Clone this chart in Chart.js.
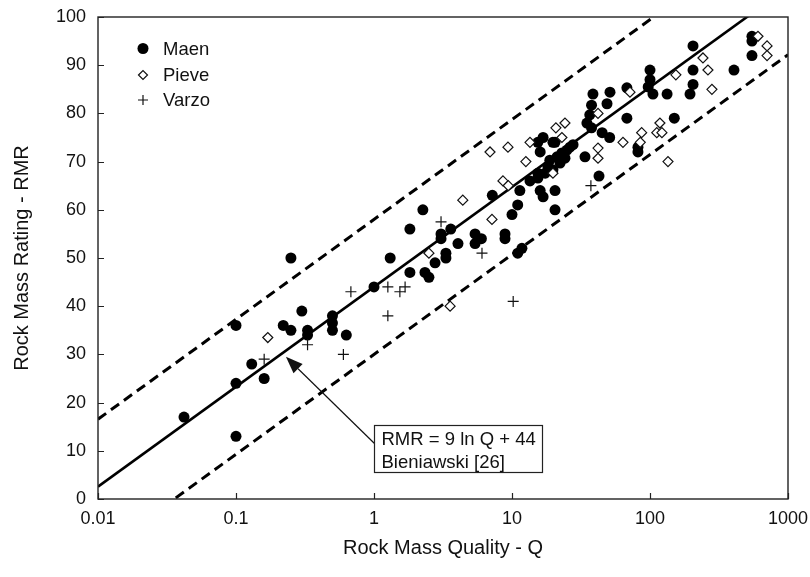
<!DOCTYPE html>
<html>
<head>
<meta charset="utf-8">
<script src="https://cdn.jsdelivr.net/npm/chart.js@4.4.1/dist/chart.umd.min.js"></script>
<style>
  html, body { margin: 0; padding: 0; background: #fff; }
  canvas { display: block; }
</style>
</head>
<body>
<canvas id="c" width="810" height="577"></canvas>
<script>
// Rock mass quality Q vs rock mass rating RMR for three sites
const maenQ = [0.042, 0.1, 0.1, 0.1, 0.13, 0.16, 0.22, 0.25, 0.25, 0.3, 0.33, 0.33, 0.5, 0.5, 0.5, 0.63,
  1.0, 1.31, 1.82, 1.82, 2.26, 2.34, 2.5, 2.77, 3.06, 3.06, 3.32, 3.32, 3.6, 4.06, 5.4, 5.4, 6.0, 8.9, 8.9,
  7.2, 10, 11, 11.8, 11, 11.4, 13.5, 15.4, 16.8, 19.8, 20.5, 16, 25, 26.3, 27.7, 23, 21.2, 24.2, 22.3, 18.8,
  18.2, 19.8, 17.4, 15.4, 15.4, 16, 16.8, 20.5, 20.5, 33.8, 42.7, 34.9, 36.6, 37.7, 37.7, 38.6, 48.8, 51.3,
  45, 51, 68, 68, 81.8, 81.8, 100, 100, 97, 105, 133, 150, 205, 205, 205, 195, 406, 548, 548, 548];
const maenRMR = [17, 13, 24, 36, 28, 25, 36, 35, 50, 39, 35, 34, 38, 36.5, 35, 34,
  44, 50, 56, 47, 60, 47, 46, 49, 55, 54, 51, 50, 56, 53, 55, 53, 54, 55, 54,
  63, 59, 51, 52, 61, 64, 66, 74, 75, 74, 74, 72, 72.4, 73, 73.5, 71.8, 71, 70.7, 69.7, 70.3,
  69, 68.3, 67.6, 67.6, 66.6, 64, 62.7, 64, 60, 71, 67, 78, 79.7, 77, 81.7, 84, 82, 84.4,
  76, 75, 85.3, 79, 73, 72, 89, 87, 85.5, 84, 84, 79, 94, 89, 86, 84, 89, 96, 95, 92];

const pieveQ = [0.17, 3.56, 2.5, 4.4, 7.16, 6.93, 9.35, 8.6, 9.4, 12.6, 13.5, 19.8, 24.2, 20.8, 23,
  42, 42, 42, 63.7, 87, 85, 118, 112, 122, 135, 154, 242, 263, 281, 606, 705, 705, 71.6];
const pieveRMR = [33.5, 40, 51, 62, 58, 72, 73, 66, 65, 70, 74, 67.6, 78, 77, 75,
  80, 72.8, 70.7, 74, 76, 74, 78, 76, 76, 70, 88, 91.5, 89, 85, 96, 94, 92, 84.4];

const varzoQ = [0.16, 0.33, 0.6, 0.68, 1.26, 1.26, 1.54, 1.68, 3.06, 6.06, 10.2, 37.3];
const varzoRMR = [29, 32, 30, 43, 44, 38, 43, 44, 57.5, 51, 41, 65];

// Bieniawski correlation RMR = 9 ln Q + 44, with a +/- band
const FIT_SLOPE = 9;
const FIT_INTERCEPT = 44;
const BAND = 14;
const lineQ = [0.01, 1000];

const xTickValues = [0.01, 0.1, 1, 10, 100, 1000];
const xTickLabels = ['0.01', '0.1', '1', '10', '100', '1000'];

const seriesNames = ['Maen', 'Pieve', 'Varzo'];

const FONT_FAMILY = 'Arial, "Liberation Sans", Helvetica, sans-serif';
const INK = '#111';

const pts = (qs, rs) => qs.map((q, i) => ({ x: q, y: rs[i] }));
const fitLine = (off) => lineQ.map(q => ({ x: q, y: FIT_SLOPE * Math.log(q) + FIT_INTERCEPT + off }));

// Inward tick marks, plot frame, legend and the correlation callout
const decorations = {
  id: 'decorations',
  afterDatasetsDraw(chart) {
    const { ctx, chartArea: a, scales: { x, y } } = chart;
    ctx.save();
    // frame
    ctx.strokeStyle = '#222';
    ctx.lineWidth = 1.4;
    ctx.strokeRect(a.left, a.top, a.right - a.left, a.bottom - a.top);
    // ticks
    ctx.lineWidth = 1.2;
    ctx.beginPath();
    y.ticks.forEach(t => {
      const py = Math.round(y.getPixelForValue(t.value)) + 0.5;
      ctx.moveTo(a.left, py); ctx.lineTo(a.left + 6, py);
    });
    xTickValues.forEach(v => {
      const px = Math.round(x.getPixelForValue(v)) + 0.5;
      ctx.moveTo(px, a.bottom); ctx.lineTo(px, a.bottom - 6);
    });
    ctx.stroke();

    // legend
    ctx.font = '18.5px ' + FONT_FAMILY;
    ctx.textBaseline = 'middle';
    ctx.textAlign = 'left';
    const rows = [48.5, 75, 100];
    chart.data.datasets.slice(0, 3).forEach((ds, i) => {
      ctx.fillStyle = ds.backgroundColor;
      ctx.strokeStyle = ds.borderColor;
      ctx.lineWidth = ds.borderWidth;
      Chart.helpers.drawPoint(ctx, {
        pointStyle: ds.pointStyle, radius: ds.legendRadius, borderWidth: ds.borderWidth, rotation: 0
      }, 143, rows[i]);
      ctx.fillStyle = INK;
      ctx.fillText(ds.label, 163, rows[i] + 1);
    });

    // callout box
    const bx = Math.round(x.getPixelForValue(1)) + 0.5;
    const by = Math.round(y.getPixelForValue(15.4)) + 0.5;
    const bw = 168, bh = 47;
    // arrow
    const tipX = x.getPixelForValue(0.23), tipY = y.getPixelForValue(29.5);
    const sx = bx, sy = by + 18;
    const ang = Math.atan2(sy - tipY, sx - tipX);
    const hl = 17, hw = 6.5;
    const baseX = tipX + Math.cos(ang) * hl, baseY = tipY + Math.sin(ang) * hl;
    ctx.strokeStyle = '#111';
    ctx.lineWidth = 1.2;
    ctx.beginPath();
    ctx.moveTo(sx, sy); ctx.lineTo(baseX, baseY);
    ctx.stroke();
    ctx.fillStyle = '#111';
    ctx.beginPath();
    ctx.moveTo(tipX, tipY);
    ctx.lineTo(baseX + Math.sin(ang) * hw, baseY - Math.cos(ang) * hw);
    ctx.lineTo(baseX - Math.sin(ang) * hw, baseY + Math.cos(ang) * hw);
    ctx.closePath();
    ctx.fill();

    ctx.fillStyle = '#fff';
    ctx.fillRect(bx, by, bw, bh);
    ctx.strokeStyle = '#222';
    ctx.lineWidth = 1.2;
    ctx.strokeRect(bx, by, bw, bh);
    ctx.fillStyle = INK;
    ctx.font = '18.5px ' + FONT_FAMILY;
    ctx.fillText('RMR = ' + FIT_SLOPE + ' ln Q + ' + FIT_INTERCEPT, bx + 7, by + 14.5);
    ctx.fillText('Bieniawski [26]', bx + 7, by + 37.5);
    ctx.restore();
  }
};

new Chart(document.getElementById('c'), {
  type: 'scatter',
  data: {
    datasets: [
      { label: seriesNames[0], data: pts(maenQ, maenRMR), pointStyle: 'circle', pointRadius: 5.5,
        legendRadius: 5.5, backgroundColor: '#000', borderColor: '#000', borderWidth: 0, order: 3 },
      { label: seriesNames[1], data: pts(pieveQ, pieveRMR), pointStyle: 'rectRot', pointRadius: 5,
        legendRadius: 4.5, backgroundColor: '#fff', borderColor: '#111', borderWidth: 1.2, order: 2 },
      { label: seriesNames[2], data: pts(varzoQ, varzoRMR), pointStyle: 'cross', pointRadius: 5.5,
        legendRadius: 5, backgroundColor: '#111', borderColor: '#111', borderWidth: 1.2, order: 1 },
      { label: 'fit', data: fitLine(0), showLine: true, pointRadius: 0, borderColor: '#000',
        borderWidth: 2.6, order: 10 },
      { label: 'upper', data: fitLine(BAND), showLine: true, pointRadius: 0, borderColor: '#000',
        borderWidth: 3, borderDash: [10, 6], order: 10 },
      { label: 'lower', data: fitLine(-BAND), showLine: true, pointRadius: 0, borderColor: '#000',
        borderWidth: 3, borderDash: [10, 6], order: 10 }
    ]
  },
  options: {
    responsive: false,
    animation: false,
    events: [],
    layout: { padding: { top: 17, right: 22, left: 0, bottom: 0 } },
    plugins: { legend: { display: false }, tooltip: { enabled: false } },
    scales: {
      x: {
        type: 'logarithmic', min: 0.01, max: 1000,
        grid: { display: false, drawTicks: false },
        border: { display: false },
        afterBuildTicks: s => { s.ticks = xTickValues.map(v => ({ value: v })); },
        afterFit: s => { s.height = 78; s.paddingLeft = 0; s.paddingRight = 0; },
        ticks: {
          autoSkip: false, maxRotation: 0, padding: 9, color: INK,
          font: { family: FONT_FAMILY, size: 18 },
          callback: (v) => xTickLabels[xTickValues.indexOf(v)]
        },
        title: { display: true, text: 'Rock Mass Quality - Q', color: INK,
          font: { family: FONT_FAMILY, size: 20 }, padding: { top: 0, bottom: 17 } }
      },
      y: {
        min: 0, max: 100,
        grid: { display: false, drawTicks: false },
        border: { display: false },
        afterFit: s => { s.width = 98; s.paddingTop = 0; s.paddingBottom = 0; },
        ticks: { stepSize: 10, padding: 12, color: INK, font: { family: FONT_FAMILY, size: 18 } },
        title: { display: true, text: 'Rock Mass Rating - RMR', color: INK,
          font: { family: FONT_FAMILY, size: 20 }, padding: { top: 10, bottom: 0 } }
      }
    }
  },
  plugins: [decorations]
});
</script>
</body>
</html>
